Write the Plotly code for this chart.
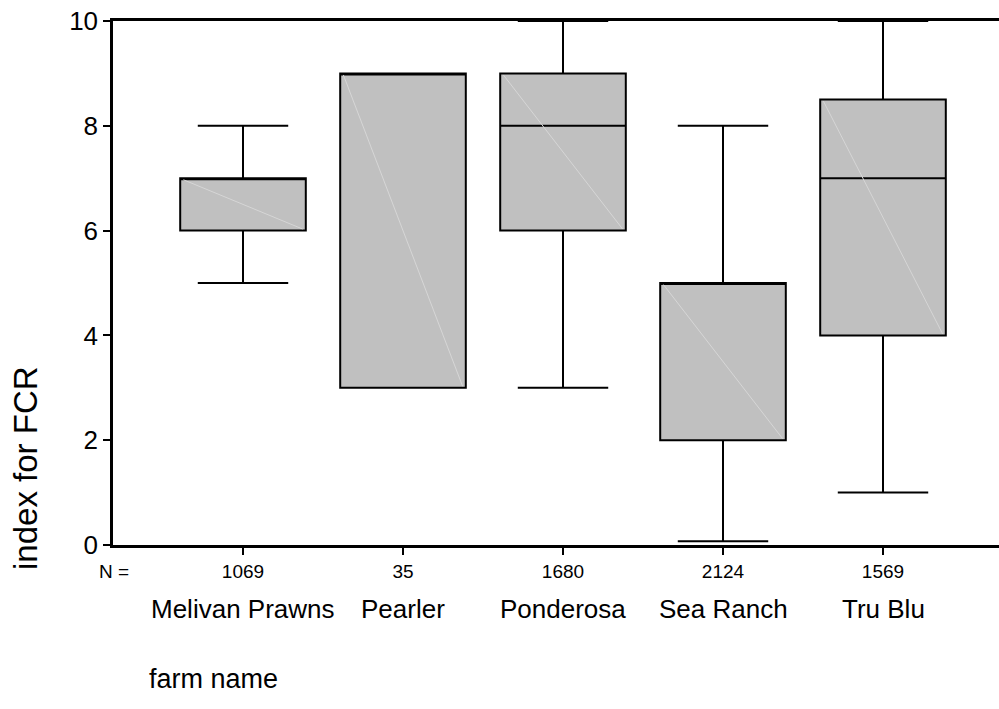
import plotly.graph_objects as go

# Summary statistics of the FCR index per farm
farms = ["Melivan Prawns", "Pearler", "Ponderosa", "Sea Ranch", "Tru Blu"]
counts = ["1069", "35", "1680", "2124", "1569"]
lower_whisker = [5, 3, 3, 0.07, 1]
q1 = [6, 3, 6, 2, 4]
median = [7, 9, 8, 5, 7]
q3 = [7, 9, 9, 5, 8.5]
upper_whisker = [8, 9, 10, 8, 10]
y_ticks = [0, 2, 4, 6, 8, 10]

pos = list(range(len(farms)))
box_w = 0.785
FONT = "Arial, Liberation Sans, sans-serif"

fig = go.Figure()
fig.add_trace(go.Box(
    x=pos, q1=q1, median=median, q3=q3,
    lowerfence=lower_whisker, upperfence=upper_whisker,
    width=box_w, whiskerwidth=0.72,
    fillcolor="#c0c0c0", line=dict(color="black", width=2),
    boxpoints=False, hoverinfo="skip", showlegend=False,
))

# faint diagonal rendering line inside each box
dx, dy = [], []
for p, a, b in zip(pos, q3, q1):
    dx += [p - box_w / 2 + 0.02, p + box_w / 2 - 0.02, None]
    dy += [a - 0.03, b + 0.03, None]
fig.add_trace(go.Scatter(x=dx, y=dy, mode="lines",
                         line=dict(color="#d6d6d6", width=1),
                         hoverinfo="skip", showlegend=False))

fig.update_layout(
    width=999, height=709,
    margin=dict(l=113, r=0, t=21, b=164),
    plot_bgcolor="white", paper_bgcolor="white",
    font=dict(family=FONT, color="black"),
    xaxis=dict(
        range=[-0.8125, 4.725], tickvals=pos, ticktext=counts,
        ticks="outside", ticklen=7, tickwidth=1.5, tickcolor="black",
        showline=True, linecolor="black", linewidth=2.5, mirror=True,
        showgrid=False, zeroline=False,
        tickfont=dict(size=19, family=FONT),
    ),
    yaxis=dict(
        range=[0, 10], tickvals=y_ticks,
        ticks="outside", ticklen=7, tickwidth=1.5, tickcolor="black",
        showline=True, linecolor="black", linewidth=2.5,
        showgrid=False, zeroline=False,
        tickfont=dict(size=26, family=FONT),
    ),
)

fig.add_annotation(text="N =", xref="paper", yref="paper",
                   x=(97 - 113) / 886, y=-0.05, xanchor="left", yanchor="middle",
                   showarrow=False, font=dict(size=19))
for p, name in zip(pos, farms):
    fig.add_annotation(text=name, x=p, xref="x", yref="paper", y=-0.122,
                       xanchor="center", yanchor="middle", showarrow=False,
                       font=dict(size=26))
fig.add_annotation(text="farm name", xref="paper", yref="paper",
                   x=(147 - 113) / 886, y=-0.256, xanchor="left",
                   yanchor="middle", showarrow=False, font=dict(size=27))
fig.add_annotation(text="index for FCR", xref="paper", yref="paper",
                   x=(25 - 113) / 886, y=(545 - 468) / 524, textangle=-90,
                   xanchor="center", yanchor="middle", showarrow=False,
                   font=dict(size=33))

fig.write_html("out.html")
